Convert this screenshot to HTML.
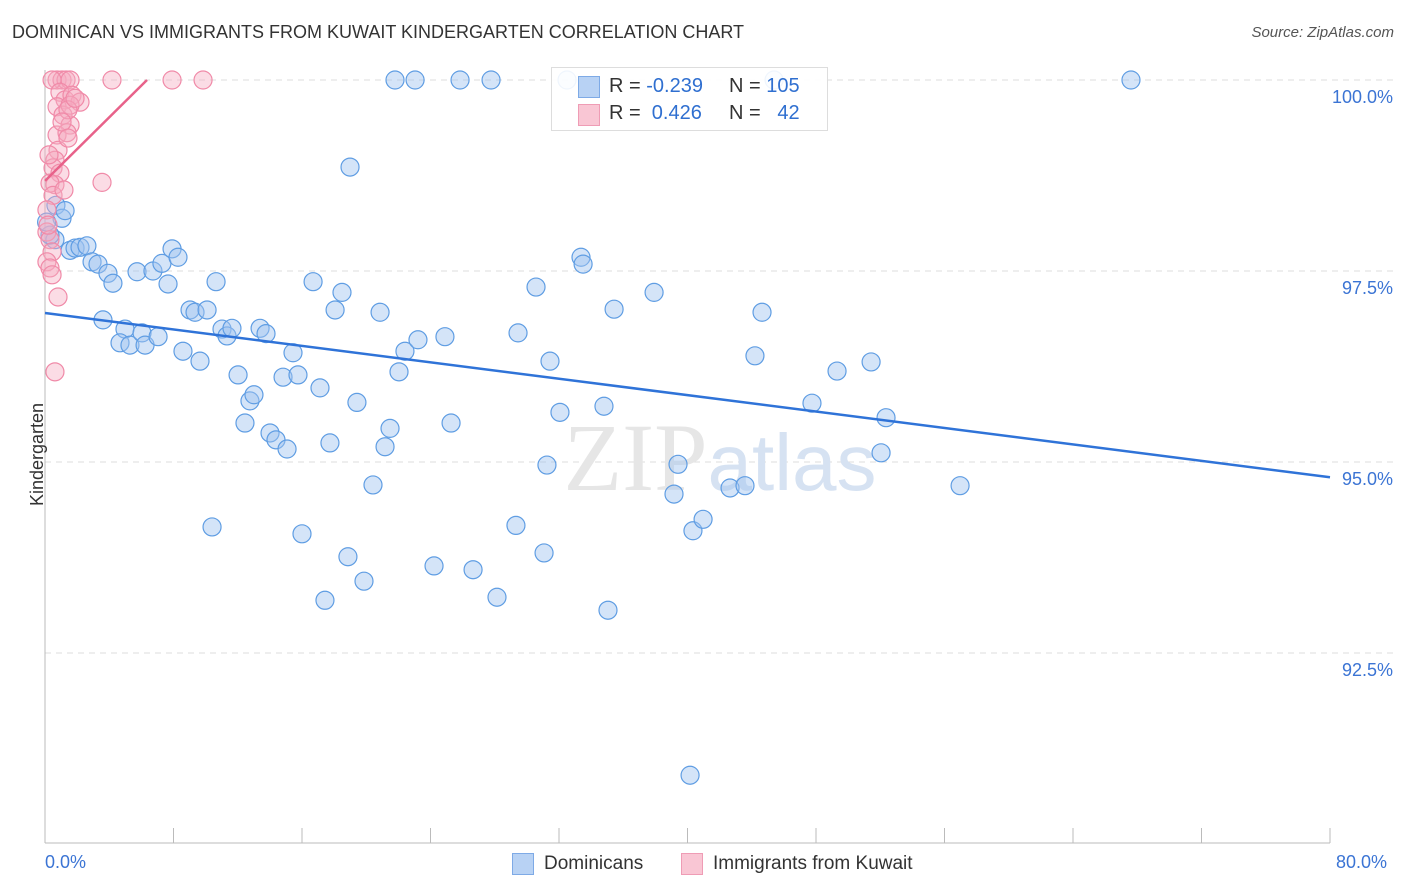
<!DOCTYPE html>
<html><head><meta charset="utf-8">
<style>
body{margin:0;background:#fff;font-family:"Liberation Sans",sans-serif;}
#wrap{position:relative;width:1406px;height:892px;overflow:hidden;}
.t{position:absolute;white-space:nowrap;}
</style></head>
<body>
<div id="wrap">
<div class="t" style="left:12px;top:22px;font-size:18px;color:#333;">DOMINICAN VS IMMIGRANTS FROM KUWAIT KINDERGARTEN CORRELATION CHART</div>
<div class="t" style="right:12px;top:24px;font-size:15px;color:#555;font-style:italic;">Source: ZipAtlas.com</div>
<svg id="plot" width="1406" height="892" style="position:absolute;left:0;top:0"></svg>
</div>
<script>
const bx=[0.68,1.06,1.25,0.62,0.31,1.56,1.87,2.18,2.61,2.93,3.30,3.92,4.23,3.61,4.98,4.67,5.29,6.04,6.23,7.04,5.73,6.72,7.28,7.66,7.91,8.28,8.59,9.03,9.34,9.65,10.09,10.65,10.40,11.02,11.33,11.64,12.02,12.45,12.76,13.01,13.39,13.76,14.01,14.38,14.82,15.07,15.44,15.75,16.00,16.69,17.12,17.43,17.74,18.06,18.49,18.99,18.86,19.42,19.86,20.42,20.86,21.17,21.48,21.79,22.04,22.41,23.04,23.22,24.22,24.90,25.28,25.84,26.65,27.77,28.14,29.32,29.45,30.57,31.07,31.25,31.44,32.06,32.50,33.37,33.50,34.80,35.05,35.43,37.92,39.16,39.41,40.16,40.34,40.97,42.65,43.58,44.20,44.64,45.39,47.75,49.31,51.43,52.05,52.36,56.97,67.61,0.1];
const by=[98.36,98.19,98.29,97.91,97.97,97.77,97.80,97.81,97.83,97.62,97.59,97.47,97.34,96.86,96.74,96.56,96.53,96.69,96.53,96.64,97.49,97.50,97.60,97.33,97.79,97.68,96.45,96.99,96.96,96.32,96.99,97.36,94.15,96.74,96.65,96.75,96.14,95.51,95.80,95.88,96.75,96.68,95.38,95.29,96.11,95.17,96.43,96.14,94.06,97.36,95.97,93.19,95.25,96.99,97.22,98.86,93.76,95.78,93.44,94.70,96.96,95.20,95.44,100,96.18,96.45,100,96.60,93.64,96.64,95.51,100,93.59,100,93.23,94.17,96.69,97.29,93.81,94.96,96.32,95.65,100,97.68,97.59,95.73,93.06,97.00,97.22,94.58,94.97,90.90,94.10,94.25,94.66,94.69,96.39,96.96,100,95.77,96.19,96.31,95.12,95.58,94.69,100,98.14];
const px=[0.75,1.06,1.31,1.56,0.44,4.17,7.91,9.84,0.93,1.25,1.68,2.18,0.75,1.12,1.56,0.75,1.37,0.81,0.62,0.50,0.93,0.62,0.31,0.50,3.55,0.12,0.31,0.44,0.12,0.31,0.44,0.81,0.62,1.56,1.43,1.06,0.12,0.19,1.18,1.87,1.43,0.25];
const py=[100,100,100,100,100,100,100,100,99.84,99.74,99.80,99.71,99.65,99.54,99.41,99.28,99.31,99.08,98.95,98.85,98.78,98.63,98.65,98.49,98.66,98.01,97.91,97.75,97.62,97.54,97.45,97.16,96.18,99.67,99.61,99.45,98.30,98.10,98.56,99.76,99.24,99.02];
const blueLine=[96.95,94.80]; // y at x=0 and x=80
const pinkLine=[98.68,100,6.35]; // y at x=0, y at end, end x
const yTicks=[100,97.5,95,92.5];
const yTickLabels=["100.0%","97.5%","95.0%","92.5%"];
const xTickVals=[0,8,16,24,32,40,48,56,64,72,80];

const X=v=>45+v/80*1285;
const Y=v=>80+(100-v)/2.5*191;
const svg=document.getElementById('plot');
const NS='http://www.w3.org/2000/svg';
function mk(tag,attrs){const e=document.createElementNS(NS,tag);for(const k in attrs)e.setAttribute(k,attrs[k]);svg.appendChild(e);return e;}

yTicks.forEach((v,i)=>{
  const g=mk('line',{x1:45,x2:1393,y1:Y(v),y2:Y(v),stroke:'#ddd','stroke-dasharray':'6,5'});
  
  
  const t=mk('text',{x:1393,y:Y(v)+23,'text-anchor':'end','font-size':18,fill:'#3b74d4','font-family':'Liberation Sans, sans-serif'});
  t.textContent=yTickLabels[i];
  
  
});
const ax=mk('line',{x1:45,x2:1330,y1:843,y2:843,stroke:'#bbb'});


const ay=mk('line',{x1:45,x2:45,y1:70,y2:843,stroke:'#bbb'});


xTickVals.forEach(v=>{
  const t=mk('line',{x1:X(v),x2:X(v),y1:828,y2:843,stroke:'#bbb'});
  
  
});
// watermark
const wm=mk('text',{x:720,y:490,'text-anchor':'middle','font-size':96,fill:'#e6e6e6','font-family':'Liberation Serif, serif'});
wm.innerHTML='ZIP<tspan fill="#d6e2f2" font-family="Liberation Sans, sans-serif" font-size="80">atlas</tspan>';



bx.forEach((v,i)=>{
  const c=mk('circle',{cx:X(v),cy:Y(by[i]),r:9,fill:'rgba(160,196,240,0.45)',stroke:'#5f9de3','stroke-width':1.2});
  
  
});
px.forEach((v,i)=>{
  const c=mk('circle',{cx:X(v),cy:Y(py[i]),r:9,fill:'rgba(246,172,194,0.42)',stroke:'#f08aa8','stroke-width':1.2});
  
  
});
const bl=mk('line',{x1:X(0),y1:Y(blueLine[0]),x2:X(80),y2:Y(blueLine[1]),stroke:'#2f73d8','stroke-width':2.5});


const pl=mk('line',{x1:X(0),y1:Y(pinkLine[0]),x2:X(pinkLine[2]),y2:Y(pinkLine[1]),stroke:'#e8628a','stroke-width':2.5});


</script>
<div class="t" style="left:-14px;top:444px;font-size:18px;color:#333;transform:rotate(-90deg);">Kindergarten</div>
<div class="t" style="left:45px;top:852px;font-size:18px;color:#3b74d4;">0.0%</div>
<div class="t" style="left:1336px;top:852px;font-size:18px;color:#3b74d4;">80.0%</div>
<div style="position:absolute;left:551px;top:67px;width:275px;height:62px;border:1px solid #ddd;background:rgba(255,255,255,0.9);font-size:20px;">
  <div style="position:absolute;left:26px;top:8px;width:20px;height:20px;background:#b8d2f4;border:1px solid #7eaae6;"></div>
  <div class="t" style="left:57px;top:7px;color:#333;">R = <span style="color:#2f6fd0">-0.239</span></div>
  <div class="t" style="left:177px;top:7px;color:#333;">N = <span style="color:#2f6fd0">105</span></div>
  <div style="position:absolute;left:26px;top:36px;width:20px;height:20px;background:#f9c6d4;border:1px solid #ef9cb5;"></div>
  <div class="t" style="left:57px;top:34px;color:#333;">R = &nbsp;<span style="color:#2f6fd0">0.426</span></div>
  <div class="t" style="left:177px;top:34px;color:#333;">N = &nbsp;&nbsp;<span style="color:#2f6fd0">42</span></div>
</div>
<div style="position:absolute;left:512px;top:853px;">
  <div style="position:absolute;left:0;top:0;width:20px;height:20px;background:#b8d2f4;border:1px solid #7eaae6;"></div>
  <div class="t" style="left:32px;top:0;font-size:19px;color:#333;">Dominicans</div>
</div>
<div style="position:absolute;left:681px;top:853px;">
  <div style="position:absolute;left:0;top:0;width:20px;height:20px;background:#f9c6d4;border:1px solid #ef9cb5;"></div>
  <div class="t" style="left:32px;top:0;font-size:19px;color:#333;">Immigrants from Kuwait</div>
</div>
</body></html>
